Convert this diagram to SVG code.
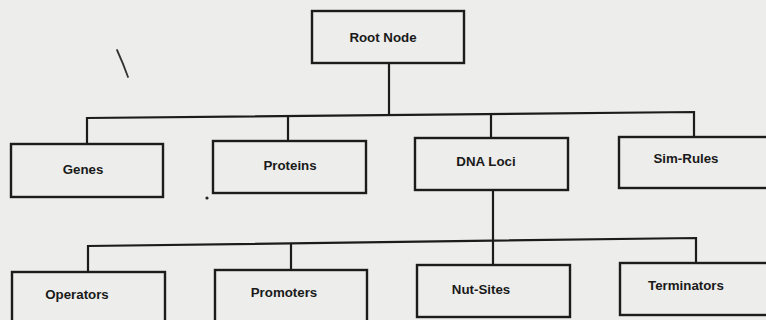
<svg xmlns="http://www.w3.org/2000/svg" width="766" height="320" viewBox="0 0 766 320">
<style>
.box{fill:none;stroke:#1c1c1c;stroke-width:2.4}
.lnk{fill:none;stroke:#1c1c1c;stroke-width:2.2}
.lbl{font-family:"Liberation Sans",Arial,sans-serif;font-weight:bold;font-size:13.3px;fill:#1a1a1a;text-anchor:middle;dominant-baseline:middle}
</style>
<rect width="766" height="320" fill="#ededeb"/>
<g id="connectors">
<path class="lnk" d="M389,63 V115"/>
<path class="lnk" d="M87,144 V118 L694,112 V137"/>
<path class="lnk" d="M288,141 V116"/>
<path class="lnk" d="M491,138 V113"/>
<path class="lnk" d="M493,190 V265"/>
<path class="lnk" d="M88,272 V246 L696,238 V263"/>
<path class="lnk" d="M291,270 V243"/>
</g>
<g id="root"><rect class="box" x="312" y="11" width="152" height="52"/><text class="lbl" x="383" y="38">Root Node</text></g>
<g id="genes"><rect class="box" x="11" y="144" width="152" height="53"/><text class="lbl" x="83" y="170">Genes</text></g>
<g id="proteins"><rect class="box" x="213" y="141" width="153" height="52"/><text class="lbl" x="290" y="166">Proteins</text></g>
<g id="dnaloci"><rect class="box" x="415" y="138" width="153" height="52"/><text class="lbl" x="486" y="162">DNA Loci</text></g>
<g id="simrules"><rect class="box" x="619" y="137" width="160" height="51"/><text class="lbl" x="686" y="159">Sim-Rules</text></g>
<g id="operators"><rect class="box" x="12" y="272" width="153" height="60"/><text class="lbl" x="77" y="295">Operators</text></g>
<g id="promoters"><rect class="box" x="215" y="270" width="152" height="60"/><text class="lbl" x="284" y="293">Promoters</text></g>
<g id="nutsites"><rect class="box" x="417" y="265" width="153" height="52"/><text class="lbl" x="481" y="290">Nut-Sites</text></g>
<g id="terminators"><rect class="box" x="620" y="263" width="160" height="52"/><text class="lbl" x="686" y="286">Terminators</text></g>
<path d="M117,50 Q123,63 128,77" stroke="#333" stroke-width="1.8" stroke-linecap="round" fill="none"/>
<circle cx="207" cy="198" r="1.6" fill="#222"/>
</svg>
